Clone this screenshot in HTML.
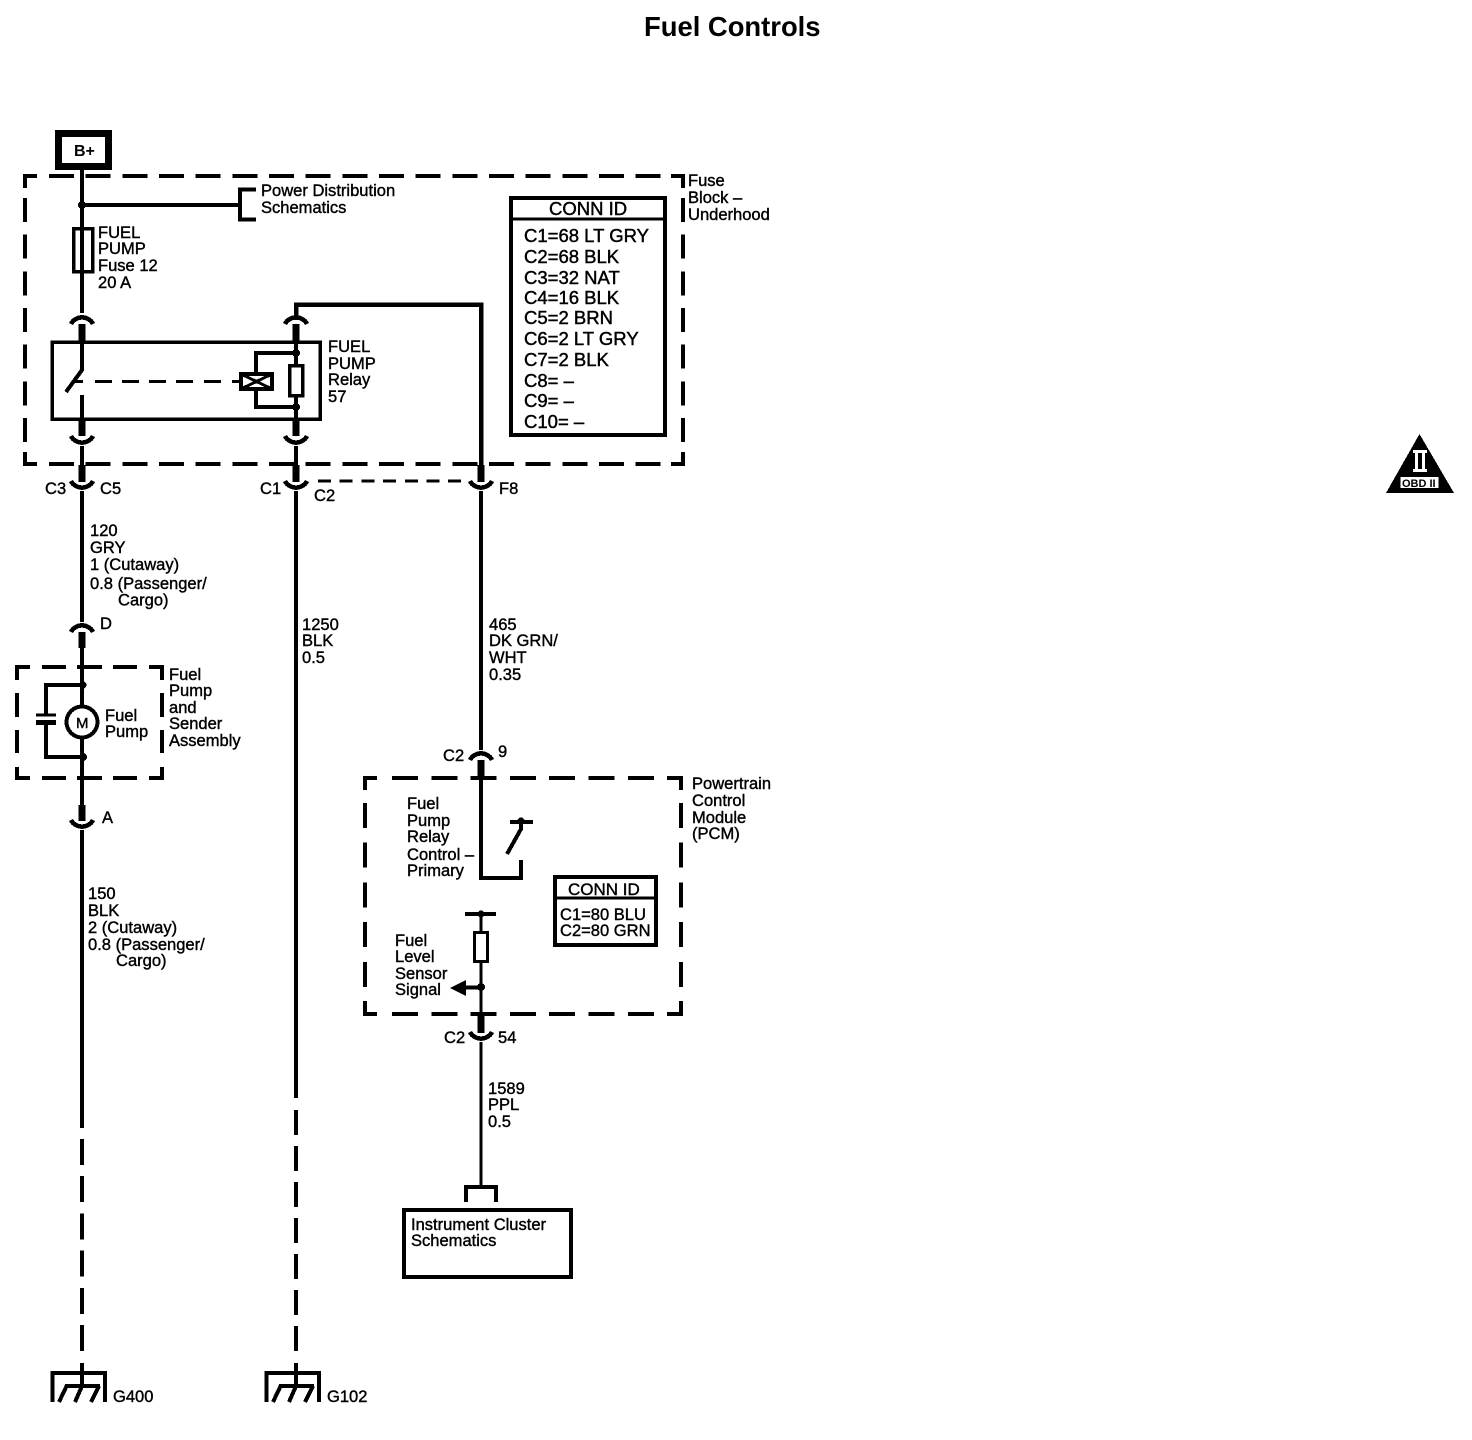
<!DOCTYPE html>
<html><head><meta charset="utf-8"><title>Fuel Controls</title>
<style>
html,body{margin:0;padding:0;background:#fff}
svg{display:block;shape-rendering:crispEdges}
text{font-family:"Liberation Sans",Arial,sans-serif;font-size:16.55px;fill:#000;stroke:#000;stroke-width:.4px}
.t{font-weight:bold;font-size:27.4px;stroke-width:0}
.b{font-size:18.5px;stroke-width:.45px}
.s{font-size:17px}
line,path,polyline,rect,circle.o{fill:none;stroke:#000;stroke-width:4}
.dot{fill:#000;stroke:none}
.d1{stroke-dasharray:25 11.67}
.d2{stroke-dasharray:24 12.67}
.d3{stroke-dasharray:26 13.3}
.th{stroke-width:7}
</style></head><body>
<svg width="1472" height="1440" viewBox="0 0 1472 1440" xmlns="http://www.w3.org/2000/svg">
<text class="t" x="644" y="36">Fuel Controls</text>

<!-- B+ -->
<rect x="58.5" y="133.5" width="50" height="33" style="stroke-width:7"/>
<text x="74" y="156" style="font-weight:bold;font-size:16px;stroke-width:0">B+</text>

<!-- Fuse block dashed -->
<polyline points="37,176 25,176 25,188"/>
<line x1="49" y1="176" x2="661" y2="176" class="d1"/>
<polyline points="671,176 683,176 683,188"/>
<line x1="25" y1="198" x2="25" y2="442" class="d2"/>
<line x1="683" y1="198" x2="683" y2="442" class="d2"/>
<polyline points="25,452 25,464 37,464"/>
<line x1="49" y1="464" x2="661" y2="464" class="d1"/>
<polyline points="671,464 683,464 683,452"/>
<text x="688" y="186">Fuse</text><text x="688" y="203">Block –</text><text x="688" y="220">Underhood</text>

<!-- left wire top -->
<line x1="82" y1="170" x2="82" y2="313"/>
<circle class="dot" cx="82" cy="205" r="4"/>
<line x1="82" y1="205" x2="240" y2="205"/>
<polyline points="256,189.5 240,189.5 240,219.5 256,219.5"/>
<text x="261" y="196">Power Distribution</text><text x="261" y="213">Schematics</text>
<rect x="73.5" y="228.5" width="19" height="43" style="stroke-width:3.5"/>
<text x="98" y="238">FUEL</text><text x="98" y="254">PUMP</text><text x="98" y="271">Fuse 12</text><text x="98" y="288">20 A</text>

<!-- top connectors -->
<path d="M71 324 A12 11 0 0 1 93 324" style="stroke-width:4.5"/>
<line x1="82" y1="324" x2="82" y2="342" class="th"/>
<path d="M285 324 A12 11 0 0 1 307 324" style="stroke-width:4.5"/>
<line x1="296" y1="324" x2="296" y2="342" class="th"/>

<!-- Relay -->
<rect x="52" y="342" width="268" height="77" style="stroke-width:3.5"/>
<text x="328" y="352">FUEL</text><text x="328" y="369">PUMP</text><text x="328" y="385">Relay</text><text x="328" y="402">57</text>
<polyline points="82,342 82,370 66,392"/>
<line x1="82" y1="395" x2="82" y2="420"/>
<line x1="75" y1="381.5" x2="240" y2="381.5" style="stroke-width:3;stroke-dasharray:8 12 17 10 17 10 17 10 17 11 17 11 17 11"/>
<polyline points="296,353 256,353 256,407 296,407"/>
<rect x="241" y="374" width="31" height="15" style="fill:#fff"/>
<path d="M243 375 L270 388 M270 375 L243 388" style="stroke-width:3"/>
<line x1="296" y1="340" x2="296" y2="365"/>
<line x1="296" y1="396" x2="296" y2="420"/>
<rect x="289.5" y="365.5" width="13" height="30" style="stroke-width:3.5"/>
<circle class="dot" cx="296" cy="353" r="4"/><circle class="dot" cx="296" cy="407" r="4"/>

<!-- bottom of relay connectors -->
<line x1="82" y1="419" x2="82" y2="436" class="th"/>
<line x1="296" y1="419" x2="296" y2="436" class="th"/>
<path d="M71 436 A12 11 0 0 0 93 436" style="stroke-width:4.5"/>
<path d="M285 436 A12 11 0 0 0 307 436" style="stroke-width:4.5"/>
<line x1="82" y1="446" x2="82" y2="466"/>
<line x1="296" y1="446" x2="296" y2="466"/>
<line x1="82" y1="465" x2="82" y2="482" class="th"/>
<line x1="296" y1="465" x2="296" y2="482" class="th"/>
<path d="M71 481 A12 11 0 0 0 93 481" style="stroke-width:4.5"/>
<path d="M285 481 A12 11 0 0 0 307 481" style="stroke-width:4.5"/>
<text x="45" y="494">C3</text><text x="100" y="494">C5</text>
<text x="260" y="494">C1</text><text x="314" y="501">C2</text>
<line x1="318" y1="481" x2="462" y2="481" style="stroke-width:3;stroke-dasharray:13 8.7"/>

<!-- Right wire -->
<polyline points="296,320 296,304.5 481,304.5 481,466" style="stroke-width:4.5"/>
<line x1="481" y1="465" x2="481" y2="482" class="th"/>
<path d="M470 481 A12 11 0 0 0 492 481" style="stroke-width:4.5"/>
<text x="499" y="494">F8</text>
<line x1="481" y1="491" x2="481" y2="750"/>

<!-- left wire mid -->
<line x1="82" y1="491" x2="82" y2="622"/>
<text x="90" y="536">120</text><text x="90" y="553">GRY</text><text x="90" y="570">1 (Cutaway)</text><text x="90" y="589">0.8 (Passenger/</text><text x="118" y="605.5">Cargo)</text>
<path d="M71 632 A12 11 0 0 1 93 632" style="stroke-width:4.5"/>
<line x1="82" y1="632" x2="82" y2="648" class="th"/>
<text x="100" y="629">D</text>

<!-- Fuel pump assy -->
<polyline points="30,667 17,667 17,680"/>
<polyline points="149,667 162,667 162,680"/>
<polyline points="17,767 17,778 30,778"/>
<polyline points="149,778 162,778 162,767"/>
<path d="M42 667H66M77 667H102M113 667H137M42 778H66M77 778H102M113 778H137M17 693V717M17 730V753M162 693V717M162 730V753"/>
<line x1="82" y1="646" x2="82" y2="706"/>
<line x1="82" y1="738" x2="82" y2="807"/>
<polyline points="82,685 46,685 46,715"/><polyline points="46,722 46,757 82,757"/>
<circle class="dot" cx="83" cy="685" r="3.5"/><circle class="dot" cx="83" cy="757" r="4"/>
<line x1="36" y1="715" x2="56" y2="715" style="stroke-width:3"/>
<line x1="36" y1="722.5" x2="56" y2="722.5" style="stroke-width:5"/>
<circle class="o" cx="82" cy="722" r="15.5"/>
<text x="76" y="728" style="font-size:15px">M</text>
<text x="105" y="721">Fuel</text><text x="105" y="737">Pump</text>
<text x="169" y="680">Fuel</text><text x="169" y="696">Pump</text><text x="169" y="713">and</text><text x="169" y="729">Sender</text><text x="169" y="746">Assembly</text>

<line x1="82" y1="805" x2="82" y2="821" class="th"/>
<path d="M71 820 A12 11 0 0 0 93 820" style="stroke-width:4.5"/>
<text x="102" y="823">A</text>
<line x1="82" y1="830" x2="82" y2="1128"/>
<text x="88" y="899">150</text><text x="88" y="916">BLK</text><text x="88" y="933">2 (Cutaway)</text><text x="88" y="950">0.8 (Passenger/</text><text x="116" y="966">Cargo)</text>
<line x1="82" y1="1139" x2="82" y2="1355" style="stroke-dasharray:26 11.2"/>

<!-- center wire -->
<line x1="296" y1="491" x2="296" y2="1098"/>
<text x="302" y="630">1250</text><text x="302" y="646">BLK</text><text x="302" y="663">0.5</text>
<line x1="296" y1="1110" x2="296" y2="1355" style="stroke-dasharray:25 11"/>

<text x="489" y="630">465</text><text x="489" y="646">DK GRN/</text><text x="489" y="663">WHT</text><text x="489" y="680">0.35</text>

<!-- Grounds -->
<polyline points="52.5,1402 52.5,1373 105,1373 105,1402"/>
<line x1="82" y1="1363" x2="82" y2="1386"/>
<line x1="65" y1="1386" x2="100" y2="1386"/>
<path d="M66.6 1386L59 1402M82 1386L75 1402M99 1386L91 1402"/>
<text x="113" y="1402">G400</text>
<polyline points="266.5,1402 266.5,1373 319,1373 319,1402"/>
<line x1="296" y1="1363" x2="296" y2="1386"/>
<line x1="279" y1="1386" x2="314" y2="1386"/>
<path d="M280.6 1386L273 1402M296 1386L289 1402M313 1386L305 1402"/>
<text x="327" y="1402">G102</text>

<!-- CONN ID big -->
<rect x="511" y="198" width="154" height="237"/>
<line x1="511" y1="219" x2="665" y2="219" style="stroke-width:3"/>
<text class="b" x="549" y="215">CONN ID</text>
<text class="b" x="524" y="242">C1=68 LT GRY</text>
<text class="b" x="524" y="263">C2=68 BLK</text>
<text class="b" x="524" y="284">C3=32 NAT</text>
<text class="b" x="524" y="304">C4=16 BLK</text>
<text class="b" x="524" y="324">C5=2 BRN</text>
<text class="b" x="524" y="345">C6=2 LT GRY</text>
<text class="b" x="524" y="366">C7=2 BLK</text>
<text class="b" x="524" y="387">C8= –</text>
<text class="b" x="524" y="407">C9= –</text>
<text class="b" x="524" y="428">C10= –</text>

<!-- PCM -->
<text x="443" y="761">C2</text><text x="498" y="757">9</text>
<path d="M470 760 A12 11 0 0 1 492 760" style="stroke-width:4.5"/>
<line x1="481" y1="760" x2="481" y2="780" class="th"/>
<polyline points="377,778 365,778 365,790"/>
<polyline points="667,778 681,778 681,790"/>
<polyline points="365,1001 365,1014 377,1014"/>
<polyline points="667,1014 681,1014 681,1001"/>
<line x1="392" y1="778" x2="654" y2="778" class="d3"/>
<line x1="392" y1="1014" x2="654" y2="1014" class="d3"/>
<line x1="365" y1="803" x2="365" y2="988" style="stroke-dasharray:25 14.7"/>
<line x1="681" y1="803" x2="681" y2="988" style="stroke-dasharray:25 14.7"/>
<text x="692" y="789">Powertrain</text><text x="692" y="806">Control</text><text x="692" y="823">Module</text><text x="692" y="839">(PCM)</text>
<polyline points="481,778 481,878 521,878 521,860"/>
<line x1="510" y1="822" x2="533" y2="822"/>
<polyline points="521,822 521,829 507,854"/>
<circle class="dot" cx="521" cy="821" r="3.5"/>
<text x="407" y="809">Fuel</text><text x="407" y="826">Pump</text><text x="407" y="842">Relay</text><text x="407" y="860">Control –</text><text x="407" y="876">Primary</text>
<line x1="465" y1="914" x2="496" y2="914"/>
<circle class="dot" cx="481" cy="914" r="3.5"/>
<line x1="481" y1="914" x2="481" y2="932" style="stroke-width:3"/>
<rect x="474.5" y="932.5" width="13" height="29" style="stroke-width:3"/>
<line x1="481" y1="962" x2="481" y2="1014" style="stroke-width:3"/>
<circle class="dot" cx="481" cy="987" r="4"/>
<line x1="465" y1="987.5" x2="481" y2="987.5"/>
<path class="dot" style="fill:#000;stroke:none" d="M450 988L466 980V996Z"/>
<text x="395" y="946">Fuel</text><text x="395" y="962">Level</text><text x="395" y="979">Sensor</text><text x="395" y="995">Signal</text>
<rect x="555" y="877" width="101" height="68"/>
<line x1="555" y1="898" x2="656" y2="898" style="stroke-width:3"/>
<text class="s" x="568" y="895">CONN ID</text>
<text x="560" y="920">C1=80 BLU</text>
<text x="560" y="936">C2=80 GRN</text>

<line x1="481" y1="1013" x2="481" y2="1033" class="th"/>
<path d="M470 1032 A12 11 0 0 0 492 1032" style="stroke-width:4.5"/>
<text x="444" y="1043">C2</text><text x="498" y="1043">54</text>
<line x1="481" y1="1042" x2="481" y2="1186" style="stroke-width:3"/>
<text x="488" y="1094">1589</text><text x="488" y="1110">PPL</text><text x="488" y="1127">0.5</text>

<polyline points="466,1202 466,1187 496,1187 496,1202"/>
<rect x="404" y="1210" width="167" height="67"/>
<text x="411" y="1230">Instrument Cluster</text><text x="411" y="1246">Schematics</text>

<!-- OBD II -->
<path class="dot" style="fill:#000;stroke:none" d="M1419.5 434L1454 493H1386Z"/>
<rect x="1400.5" y="477" width="38" height="11" style="fill:#fff;stroke:none"/>
<text x="1402" y="487" style="font-size:11px;font-weight:bold;stroke-width:0">OBD II</text>
<path style="stroke:#fff;stroke-width:3" d="M1413 451.5H1427M1413 470.5H1427M1416.5 451V471M1423.5 451V471"/>
</svg>
</body></html>
